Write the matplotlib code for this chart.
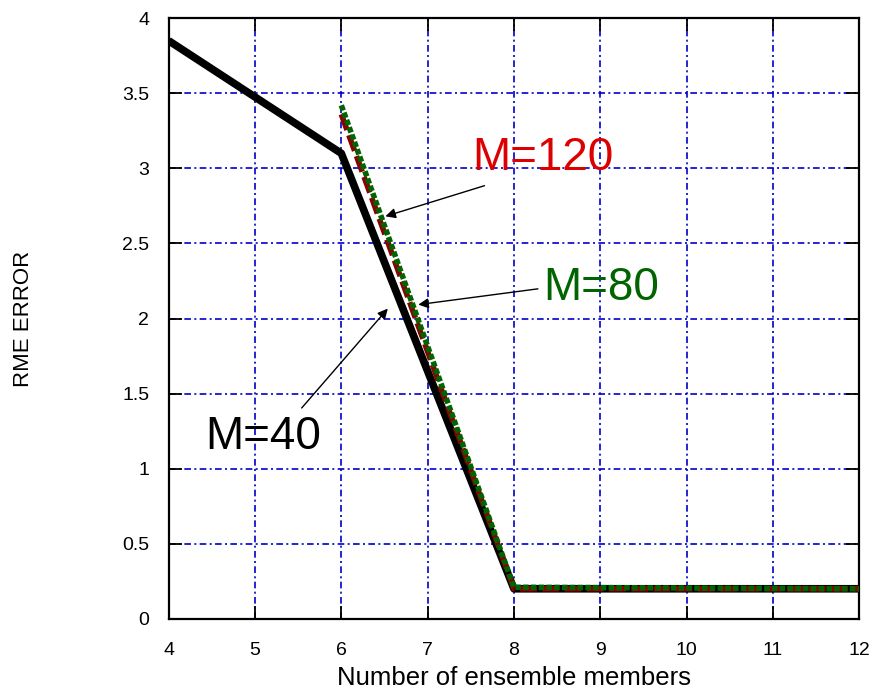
import numpy as np
import matplotlib
matplotlib.use('Agg')
import matplotlib.pyplot as plt

plt.rcParams['font.family'] = ['Liberation Sans', 'DejaVu Sans']

# datos
x40 = [4, 6, 8, 12]
y40 = [3.85, 3.1, 0.2, 0.2]
x120 = [6, 8, 12]
y120 = [3.36, 0.2, 0.2]
x80 = [6, 8, 12]
y80 = [3.42, 0.21, 0.2]

fig = plt.figure(figsize=(8.74, 7.0), dpi=100)
ax = fig.add_axes([0.193, 0.116, 0.79, 0.858])

ax.plot(x40, y40, color='black', lw=5.5, solid_capstyle='butt', zorder=3)
ax.plot(x120, y120, color='#8b0000', lw=4, ls=(0, (3, 1)), zorder=4)
ax.plot(x80, y80, color='#006400', lw=4, ls=(0, (1, 0.4)), zorder=5)

ax.set_xlim(4, 12)
ax.set_ylim(0, 4)
ax.set_xticks(np.arange(4, 13, 1))
ax.set_yticks(np.arange(0, 4.01, 0.5))
ax.set_yticklabels(['0', '0.5', '1', '1.5', '2', '2.5', '3', '3.5', '4'])
ax.tick_params(direction='in', top=True, right=True, length=9.5, width=1.3,
               labelsize=14)
ax.tick_params(axis='x', pad=17)
ax.tick_params(axis='y', pad=14)
for s in ax.spines.values():
    s.set_linewidth(1.6)
ax.grid(True, color='#0000cc', lw=1.2, dashes=(4, 2, 1.2, 2))

ax.set_xlabel('Number of ensemble members', fontsize=18.5)
ax.xaxis.set_label_coords(0.5, -0.078)
ax.set_ylabel('RME ERROR', fontsize=16)
ax.yaxis.set_label_coords(-0.195, 0.5)

# anotaciones
flecha = dict(arrowstyle='-|>', color='black', lw=1, mutation_scale=15)
ax.annotate('', xy=(6.48, 2.675), xytext=(7.69, 2.89), arrowprops=flecha)
ax.text(7.52, 3.07, 'M=120', color='#dd0000', fontsize=33, va='center')

ax.annotate('', xy=(6.86, 2.09), xytext=(8.31, 2.2), arrowprops=flecha)
ax.text(8.34, 2.2, 'M=80', color='#006400', fontsize=33, va='center')

ax.annotate('', xy=(6.56, 2.08), xytext=(5.52, 1.39), arrowprops=flecha)
ax.text(4.42, 1.21, 'M=40', color='black', fontsize=33, va='center')

fig.savefig('out.png', dpi=100)
